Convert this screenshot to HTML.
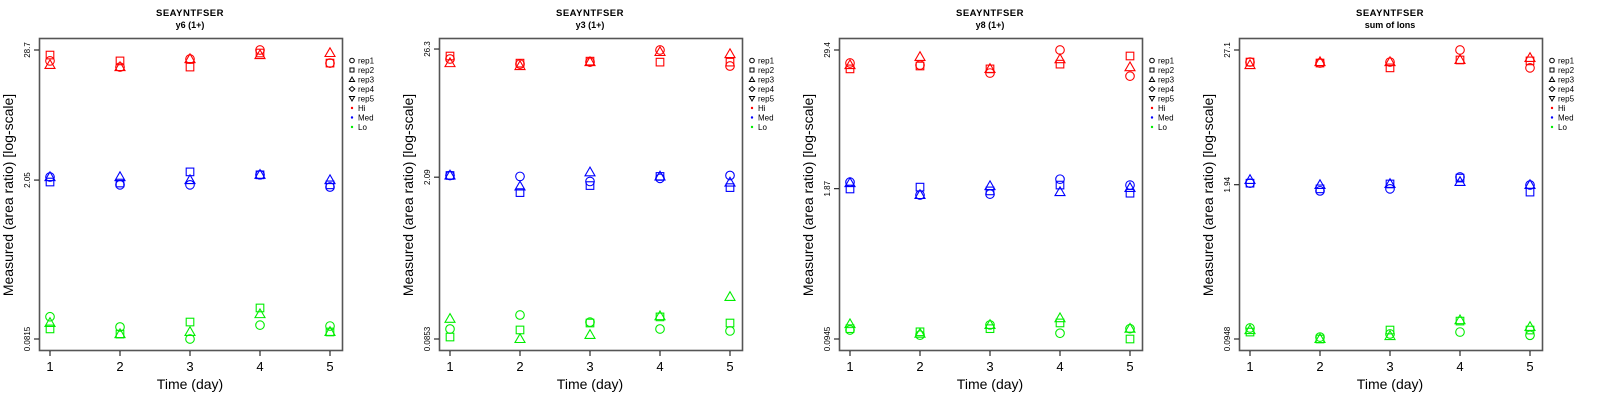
<!DOCTYPE html>
<html><head><meta charset="utf-8"><style>
html,body{margin:0;padding:0;background:#fff}
svg{display:block;font-family:"Liberation Sans",sans-serif}
</style></head><body>
<svg id="chart" width="1600" height="400"></svg>
<script>
const panelTitles = ["y6 (1+)", "y3 (1+)", "y8 (1+)", "sum of Ions"];
const yTickLabels = [["28.7","2.05","0.0815"],["26.3","2.09","0.0853"],["29.4","1.87","0.0945"],["27.1","1.94","0.0948"]];
const days = [1,2,3,4,5];
const levels = ["Hi","Med","Lo"];
const levelColors = ["#ff0000","#0000ff","#00ee00"];
const reps = ["rep1","rep2","rep3"];
// values[panel][level][rep][day]
const p1Hi = [[23.0,20.3,23.9,28.7,22.0],[25.9,23.0,20.3,27.0,22.0],[21.2,20.3,23.9,25.9,27.0]];
const p1Med = [[2.18,1.86,1.86,2.28,1.78],[1.97,1.93,2.42,2.28,1.86],[2.18,2.18,2.05,2.28,2.05]];
const p1Lo = [[0.128,0.104,0.0815,0.108,0.106],[0.100,0.090,0.115,0.153,0.094],[0.113,0.090,0.094,0.135,0.094]];
const p2Hi = [[21.6,19.5,20.3,25.8,18.8],[22.9,19.9,20.7,20.3,20.3],[19.9,18.8,20.3,24.8,23.8]];
const p2Med = [[2.16,2.12,1.92,2.04,2.16],[2.16,1.54,1.77,2.12,1.70],[2.16,1.74,2.30,2.12,1.88]];
const p2Lo = [[0.104,0.137,0.119,0.104,0.100],[0.0887,0.102,0.117,0.132,0.117],[0.127,0.0853,0.0925,0.134,0.196]];
const p3Hi = [[22.7,21.8,18.6,29.4,17.5],[20.2,21.4,20.2,22.2,26.1],[21.8,25.6,20.2,24.5,20.9]];
const p3Med = [[2.13,1.65,1.68,2.26,2.01],[1.86,1.93,1.79,2.01,1.71],[2.09,1.65,1.97,1.75,1.90]];
const p3Lo = [[0.113,0.102,0.125,0.106,0.116],[0.116,0.109,0.116,0.130,0.0945],[0.127,0.105,0.125,0.143,0.116]];
const p4Hi = [[21.4,21.0,21.4,27.1,19.1],[21.4,21.0,19.1,22.3,21.9],[20.2,21.4,21.4,22.3,23.2]];
const p4Med = [[2.00,1.72,1.79,2.26,1.93],[2.00,1.79,1.97,2.21,1.68],[2.13,1.93,1.97,2.05,1.93]];
const p4Lo = [[0.1175,0.0984,0.1045,0.1086,0.102],[0.1086,0.0948,0.113,0.1346,0.113],[0.113,0.0948,0.1005,0.137,0.12]];
const values = [[p1Hi,p1Med,p1Lo],[p2Hi,p2Med,p2Lo],[p3Hi,p3Med,p3Lo],[p4Hi,p4Med,p4Lo]];

const NS="http://www.w3.org/2000/svg";
const svg=document.getElementById('chart');
function mk(tag,attrs,parent,text){const e=document.createElementNS(NS,tag);for(const k in attrs)e.setAttribute(k,attrs[k]);if(text!==undefined)e.textContent=text;(parent||svg).appendChild(e);return e;}
function marker(g,shape,x,y,col){
  const st={fill:"none",stroke:col,"stroke-width":1.1};
  let e;
  if(shape===0){e=mk('circle',Object.assign({cx:x,cy:y,r:4.3},st),g);}
  else if(shape===1){e=mk('rect',Object.assign({x:x-3.8,y:y-3.8,width:7.6,height:7.6},st),g);}
  else {e=mk('polygon',Object.assign({points:`${x},${y-5.2} ${x-5},${y+3.5} ${x+5},${y+3.5}`},st),g);}
  return e;
}
values.forEach((pv,pi)=>{
  const ox=pi*400;
  const g=mk('g',{transform:`translate(${ox},0)`});
  
  
  const all=pv.flat(2);
  const lmax=Math.log10(Math.max(...all)), lmin=Math.log10(Math.min(...all));
  const xS=d=>50+(d-1)*70;
  const yS=v=>50+(lmax-Math.log10(v))/(lmax-lmin)*289;
  let t=mk('text',{x:190,y:16,"text-anchor":"middle","font-size":"9.5","font-weight":"bold","letter-spacing":"0.5"},g,"SEAYNTFSER");
  
  t=mk('text',{x:190,y:28,"text-anchor":"middle","font-size":"9","font-weight":"bold"},g,panelTitles[pi]);
  
  const box=mk('rect',{x:39.5,y:38.5,width:303,height:312,fill:"none",stroke:"#555","stroke-width":1.6},g);
  
  yTickLabels[pi].forEach((lab)=>{
    const y=yS(parseFloat(lab));
    mk('line',{x1:34,x2:39,y1:y,y2:y,stroke:"#000","stroke-width":1},g);
    const l=mk('text',{x:0,y:0,transform:`translate(30,${y}) rotate(-90)`,"text-anchor":"middle","font-size":"8"},g,lab);
    
  });
  days.forEach(d=>{
    const x=xS(d);
    mk('line',{x1:x,x2:x,y1:351,y2:356,stroke:"#000","stroke-width":1},g);
    const l=mk('text',{x:x,y:371,"text-anchor":"middle","font-size":"13"},g,String(d));
    
  });
  t=mk('text',{x:190,y:389,"text-anchor":"middle","font-size":"14"},g,"Time (day)");
  
  t=mk('text',{x:0,y:0,transform:"translate(13,195) rotate(-90)","text-anchor":"middle","font-size":"14"},g,"Measured (area ratio) [log-scale]");
  
  pv.forEach((lv,li)=>{
    lv.forEach((rv,ri)=>{
      rv.forEach((v,di)=>{
        const m=marker(g,ri,xS(days[di]),yS(v),levelColors[li]);
        
        
      });
    });
  });
  const lg=mk('g',{},g);
  
  const labs=["rep1","rep2","rep3","rep4","rep5","Hi","Med","Lo"];
  labs.forEach((lb,i)=>{
    const y=61+i*9.5, x=352;
    if(i===0)mk('circle',{cx:x,cy:y-0.5,r:2.3,fill:"none",stroke:"#000","stroke-width":1},lg);
    else if(i===1)mk('rect',{x:x-2,y:y-2.5,width:4,height:4,fill:"none",stroke:"#000","stroke-width":1},lg);
    else if(i===2)mk('polygon',{points:`${x},${y-3} ${x-2.6},${y+1.5} ${x+2.6},${y+1.5}`,fill:"none",stroke:"#000","stroke-width":1},lg);
    else if(i===3)mk('polygon',{points:`${x},${y-3} ${x+2.8},${y-0.5} ${x},${y+2} ${x-2.8},${y-0.5}`,fill:"none",stroke:"#000","stroke-width":1},lg);
    else if(i===4)mk('polygon',{points:`${x},${y+2} ${x-2.6},${y-2.5} ${x+2.6},${y-2.5}`,fill:"none",stroke:"#000","stroke-width":1},lg);
    else mk('circle',{cx:x,cy:y-0.5,r:1.2,fill:levelColors[i-5]},lg);
    const e=mk('text',{x:358,y:y+2.5,"font-size":"8"},lg,lb);
    
  });
});
</script>
</body></html>
